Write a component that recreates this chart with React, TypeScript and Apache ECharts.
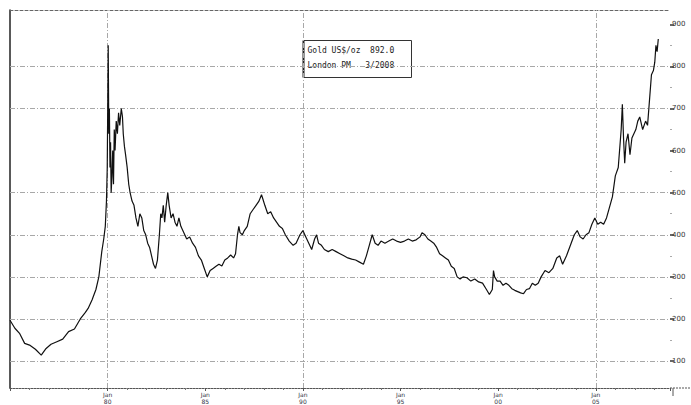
import React, { useEffect, useRef } from "react";
import * as echarts from "echarts";

// Gold price (US$/oz): [decimal year, price]
const years: number[] = [
  1975.0, 1975.25, 1975.5, 1975.75, 1976.0, 1976.3, 1976.6, 1976.85, 1977.1, 1977.4, 1977.7,
  1978.0, 1978.3, 1978.6, 1978.85, 1979.0, 1979.2, 1979.4, 1979.55, 1979.7, 1979.8, 1979.88,
  1979.94, 1979.98, 1980.03, 1980.06, 1980.09, 1980.12, 1980.15, 1980.18, 1980.22, 1980.26,
  1980.3, 1980.34, 1980.38, 1980.44, 1980.5, 1980.56, 1980.62, 1980.7, 1980.76, 1980.8,
  1980.86, 1980.92, 1981.0, 1981.08, 1981.15, 1981.25, 1981.35, 1981.45, 1981.55, 1981.65,
  1981.75, 1981.85, 1981.95, 1982.05, 1982.15, 1982.25, 1982.35, 1982.45, 1982.55, 1982.65,
  1982.72, 1982.78, 1982.85, 1982.92, 1983.0, 1983.08, 1983.15, 1983.25, 1983.35, 1983.45,
  1983.55, 1983.65, 1983.75, 1983.85, 1983.95, 1984.05, 1984.2, 1984.35, 1984.5, 1984.65,
  1984.8, 1984.95, 1985.1, 1985.25, 1985.4, 1985.55, 1985.7, 1985.85, 1986.0, 1986.15,
  1986.3, 1986.45, 1986.55, 1986.65, 1986.72, 1986.78, 1986.9, 1987.0, 1987.15, 1987.3,
  1987.45, 1987.6, 1987.75, 1987.88, 1987.95, 1988.05, 1988.2, 1988.35, 1988.5, 1988.65,
  1988.8, 1988.95, 1989.1, 1989.3, 1989.5, 1989.65, 1989.85, 1990.0, 1990.15, 1990.3,
  1990.45, 1990.6, 1990.7, 1990.8, 1990.95, 1991.1, 1991.3, 1991.5, 1991.7, 1991.9,
  1992.1, 1992.3, 1992.5, 1992.7, 1992.9, 1993.1, 1993.25, 1993.4, 1993.55, 1993.7,
  1993.85, 1994.0, 1994.2, 1994.4, 1994.6, 1994.8, 1995.0, 1995.2, 1995.4, 1995.6,
  1995.8, 1996.0, 1996.1, 1996.25, 1996.4, 1996.55, 1996.7, 1996.85, 1997.0, 1997.15,
  1997.3, 1997.45, 1997.6, 1997.75, 1997.9, 1998.05, 1998.2, 1998.4, 1998.6, 1998.8,
  1999.0, 1999.2, 1999.4, 1999.55, 1999.7, 1999.76, 1999.82, 1999.95, 2000.1, 2000.25,
  2000.4, 2000.55, 2000.7, 2000.85, 2001.0, 2001.15, 2001.3, 2001.45, 2001.6, 2001.75,
  2001.9, 2002.05, 2002.2, 2002.4, 2002.6, 2002.8, 2003.0, 2003.15, 2003.3, 2003.5,
  2003.7, 2003.9, 2004.05, 2004.2, 2004.35, 2004.5, 2004.65, 2004.8, 2004.95, 2005.1,
  2005.25, 2005.4, 2005.55, 2005.7, 2005.85, 2006.0, 2006.15, 2006.3, 2006.36, 2006.42,
  2006.48, 2006.55, 2006.65, 2006.75, 2006.85, 2006.95, 2007.05, 2007.15, 2007.25, 2007.4,
  2007.55, 2007.65, 2007.75, 2007.85, 2007.95, 2008.02, 2008.08, 2008.14, 2008.2,
];

const prices: number[] = [
  197, 178, 165, 142, 138, 128, 114, 130, 140, 146, 152,
  170, 176, 200, 215, 225, 245, 270, 300, 360, 390, 420,
  480, 560, 850, 640, 700, 560, 620, 500, 540, 600,
  520, 650, 600, 670, 640, 690, 660, 700, 680, 640,
  610, 590, 560, 520, 500, 480, 470, 440, 420, 450,
  440, 410, 400, 380, 370, 350, 330, 320, 340, 400,
  450, 440, 470, 430, 470, 500, 470, 440, 450, 430,
  420, 440, 420, 410, 400, 390, 395, 380, 370, 350,
  340, 320, 300, 315, 320, 325, 330, 326, 340, 345,
  352, 345, 355, 400, 420, 405, 400, 410, 420, 450,
  460, 470, 480, 495, 485, 470, 450, 455, 440, 430,
  420, 415, 400, 385, 375, 380, 400, 410, 395, 380,
  365, 390, 400, 380, 375, 365, 360, 365, 360, 355,
  350, 345, 342, 340, 335, 330, 350, 375, 400, 380,
  375, 385, 380, 385, 390, 385, 382, 385, 390, 385,
  388, 395, 405, 400, 390, 385, 380, 370, 355, 350,
  345, 340, 325, 320, 300, 295, 300, 298, 290, 295,
  288, 285, 270, 258, 270, 315, 300, 290, 290, 280,
  285, 280, 272, 268, 265, 262, 260, 270, 272, 285,
  280, 285, 300, 315, 310, 320, 345, 350, 330, 350,
  375, 400, 410, 395, 390, 400, 405, 425, 440, 425,
  430, 425, 440, 465, 490, 540, 560, 650, 710, 630,
  570, 620, 640, 590, 630, 640, 650, 670, 680, 650,
  670, 660, 720, 780, 790, 810, 850, 835, 865,
];

const yLabelValues: number[] = [100, 200, 300, 400, 500, 600, 700, 800, 900];
const yMinorValues: number[] = [150, 250, 350, 450, 550, 650, 750, 850];
const hGridValues: number[] = [100, 200, 300, 400, 500, 700, 800];
const vGridYears: number[] = [1980, 1990, 2005];
const xLabelYears: number[] = [1980, 1985, 1990, 1995, 2000, 2005];
const xLabelMonth = "Jan";

const legendLines: string[] = ["Gold US$/oz  892.0", "London PM   3/2008"];

export default function App() {
  const ref = useRef<HTMLDivElement>(null);

  useEffect(() => {
    if (!ref.current) return;
    const chart = echarts.init(ref.current, null, { renderer: "svg" });
    const data = years.map((y, i) => [y, prices[i]]);
    const gridColor = "#a8a8a8";
    const option: any = {
      animation: false,
      backgroundColor: "#ffffff",
      grid: { left: 10, right: 21, top: 10, bottom: 17, containLabel: false },
      xAxis: [
        {
          type: "value",
          min: 1975,
          max: 2008.8,
          interval: 5,
          axisLine: { show: true, lineStyle: { color: "#555", width: 1, type: [2, 1] } },
          axisTick: { show: true, length: 3, inside: false, lineStyle: { color: "#555" } },
          minorTick: { show: true, splitNumber: 5, length: 2, lineStyle: { color: "#777" } },
          axisLabel: {
            fontSize: 6,
            color: "#334",
            lineHeight: 7,
            margin: 3,
            fontFamily: "DejaVu Sans",
            showMaxLabel: false,
            formatter: (v: number) =>
              xLabelYears.indexOf(v) >= 0 ? xLabelMonth + "\n" + String(v).slice(2) : "",
          },
          splitLine: { show: false },
        },
        {
          type: "value",
          position: "top",
          min: 1975,
          max: 2008.8,
          axisLine: { show: true, lineStyle: { color: "#666", width: 1, type: [3, 2] } },
          axisTick: { show: false },
          axisLabel: { show: false },
          splitLine: { show: false },
        },
      ],
      yAxis: [
        {
          type: "value",
          position: "right",
          min: 36,
          max: 934,
          axisLine: { show: false },
          axisTick: {
            show: true,
            length: 4,
            customValues: yLabelValues,
            lineStyle: { color: "#333", width: 1.5 },
          },
          axisLabel: {
            customValues: yLabelValues,
            fontSize: 7,
            color: "#333",
            margin: 2,
            fontFamily: "DejaVu Sans",
          },
          splitLine: { show: false },
        },
        {
          type: "value",
          position: "right",
          min: 36,
          max: 934,
          axisLine: { show: false },
          axisTick: {
            show: true,
            length: 2,
            customValues: yMinorValues,
            lineStyle: { color: "#aaa", width: 1 },
          },
          axisLabel: { show: false },
          splitLine: { show: false },
        },
        {
          type: "value",
          position: "left",
          min: 36,
          max: 934,
          axisLine: { show: true, lineStyle: { color: "#222", width: 1.5 } },
          axisTick: { show: false },
          axisLabel: { show: false },
          splitLine: { show: false },
        },
      ],
      series: [
        {
          type: "line",
          xAxisIndex: 0,
          yAxisIndex: 0,
          data,
          showSymbol: false,
          symbol: "none",
          lineStyle: { color: "#111", width: 1.2 },
          z: 5,
          markLine: {
            silent: true,
            symbol: "none",
            label: { show: false },
            lineStyle: { color: gridColor, width: 1, type: [5, 2, 1, 2] },
            data: [
              ...hGridValues.map((v) => ({ yAxis: v })),
              ...vGridYears.map((v) => ({ xAxis: v })),
            ],
          },
        },
      ],
      graphic: [
        {
          type: "line",
          shape: { x1: 670, y1: 388, x2: 691, y2: 388 },
          style: { stroke: "#555", lineWidth: 1, lineDash: [2, 1] },
        },
        {
          type: "line",
          shape: { x1: 673, y1: 388, x2: 673, y2: 396 },
          style: { stroke: "#555", lineWidth: 1 },
        },
        {
          type: "group",
          left: 301,
          top: 38,
          children: [
            {
              type: "rect",
              shape: { x: 0, y: 0, width: 108, height: 37 },
              style: { fill: "#fff", stroke: "#333", lineWidth: 1 },
            },
            {
              type: "line",
              shape: { x1: 0, y1: 0, x2: 0, y2: 37 },
              style: { stroke: "#222", lineWidth: 2 },
            },
            {
              type: "text",
              x: 4,
              y: 6,
              style: {
                text: legendLines[0],
                fontSize: 8,
                fill: "#222",
                fontFamily: "DejaVu Sans Mono",
              },
            },
            {
              type: "text",
              x: 4,
              y: 21,
              style: {
                text: legendLines[1],
                fontSize: 8,
                fill: "#222",
                fontFamily: "DejaVu Sans Mono",
              },
            },
          ],
        },
      ],
    };
    chart.setOption(option);
    return () => chart.dispose();
  }, []);

  return (
    <div
      ref={ref}
      style={{ position: "fixed", left: 0, top: 0, width: 691, height: 405, background: "#fff" }}
    />
  );
}
